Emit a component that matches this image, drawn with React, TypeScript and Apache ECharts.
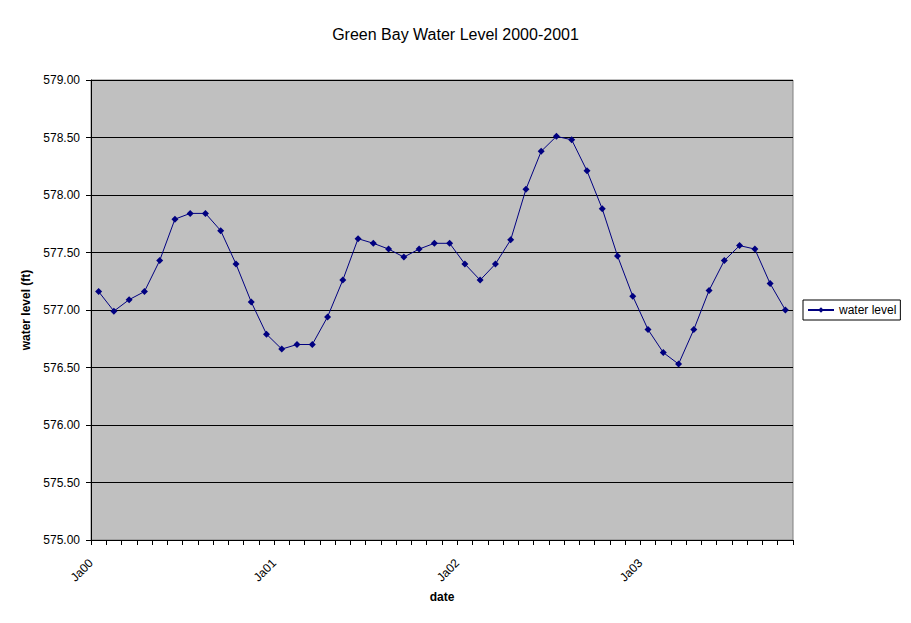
import { useEffect, useRef } from 'react';
import * as echarts from 'echarts';

// monthly water level (ft), Jan 2000 onward
const levels = [
  577.16, 576.99, 577.09, 577.16, 577.43, 577.79, 577.84, 577.84, 577.69, 577.4, 577.07, 576.79,
  576.66, 576.7, 576.7, 576.94, 577.26, 577.62, 577.58, 577.53, 577.46, 577.53, 577.58, 577.58,
  577.4, 577.26, 577.4, 577.61, 578.05, 578.38, 578.51, 578.48, 578.21, 577.88, 577.47, 577.12,
  576.83, 576.63, 576.53, 576.83, 577.17, 577.43, 577.56, 577.53, 577.23, 577.0,
];
const yearLabels = ['Ja00', 'Ja01', 'Ja02', 'Ja03'];
const monthsPerLabel = 12;

const FONT = '"Liberation Sans", Arial, sans-serif';

export default function App() {
  const ref = useRef<HTMLDivElement | null>(null);

  useEffect(() => {
    if (!ref.current) return;
    const chart = echarts.init(ref.current, undefined, { renderer: 'svg' });

    chart.setOption({
      animation: false,
      backgroundColor: '#ffffff',
      title: {
        text: 'Green Bay Water Level 2000-2001',
        left: 'center',
        top: 21,
        textStyle: { color: '#000', fontSize: 16, fontWeight: 'normal', fontFamily: FONT },
      },
      grid: {
        left: 91,
        top: 80,
        width: 702,
        height: 460,
        show: true,
        backgroundColor: '#c0c0c0',
        borderColor: '#808080',
        borderWidth: 1,
      },
      legend: {
        orient: 'vertical',
        left: 803,
        top: 300,
        backgroundColor: '#fff',
        borderColor: '#000',
        borderWidth: 1,
        borderRadius: 0,
        padding: [4, 4, 4, 4],
        itemWidth: 26,
        itemHeight: 7,
        itemGap: 4,
        textStyle: { color: '#000', fontSize: 12, fontFamily: FONT },
        data: ['water level'],
      },
      xAxis: {
        type: 'value',
        min: 0,
        max: levels.length,
        interval: 1,
        name: 'date',
        nameLocation: 'middle',
        nameGap: 50,
        nameTextStyle: { color: '#000', fontSize: 12, fontWeight: 'bold', fontFamily: FONT },
        axisLine: { show: true, onZero: false, lineStyle: { color: '#000', width: 1 } },
        axisTick: { show: true, length: 5, lineStyle: { color: '#000' } },
        splitLine: { show: false },
        axisLabel: {
          rotate: 45,
          margin: 21,
          color: '#000',
          fontSize: 12,
          fontFamily: FONT,
          formatter: (v: number) =>
            v % monthsPerLabel === 0 ? yearLabels[v / monthsPerLabel] ?? '' : '',
        },
      },
      yAxis: {
        type: 'value',
        min: 575,
        max: 579,
        interval: 0.5,
        name: 'water level (ft)',
        nameLocation: 'middle',
        nameGap: 58,
        nameTextStyle: { color: '#000', fontSize: 12, fontWeight: 'bold', fontFamily: FONT },
        axisLine: { show: true, lineStyle: { color: '#000', width: 1 } },
        axisTick: { show: true, length: 5, lineStyle: { color: '#000' } },
        splitLine: { show: true, lineStyle: { color: '#000', width: 1 } },
        axisLabel: {
          margin: 11,
          color: '#000',
          fontSize: 12,
          fontFamily: FONT,
          formatter: (v: number) => v.toFixed(2),
        },
      },
      series: [
        {
          name: 'water level',
          type: 'line',
          symbol: 'diamond',
          symbolSize: 7,
          color: '#000080',
          lineStyle: { color: '#000080', width: 1 },
          itemStyle: { color: '#000080' },
          data: levels.map((v, i) => [i + 0.5, v]),
        },
      ],
    });

    return () => {
      chart.dispose();
    };
  }, []);

  return (
    <div
      ref={ref}
      style={{ position: 'fixed', left: 0, top: 0, width: 911, height: 623 }}
    />
  );
}
